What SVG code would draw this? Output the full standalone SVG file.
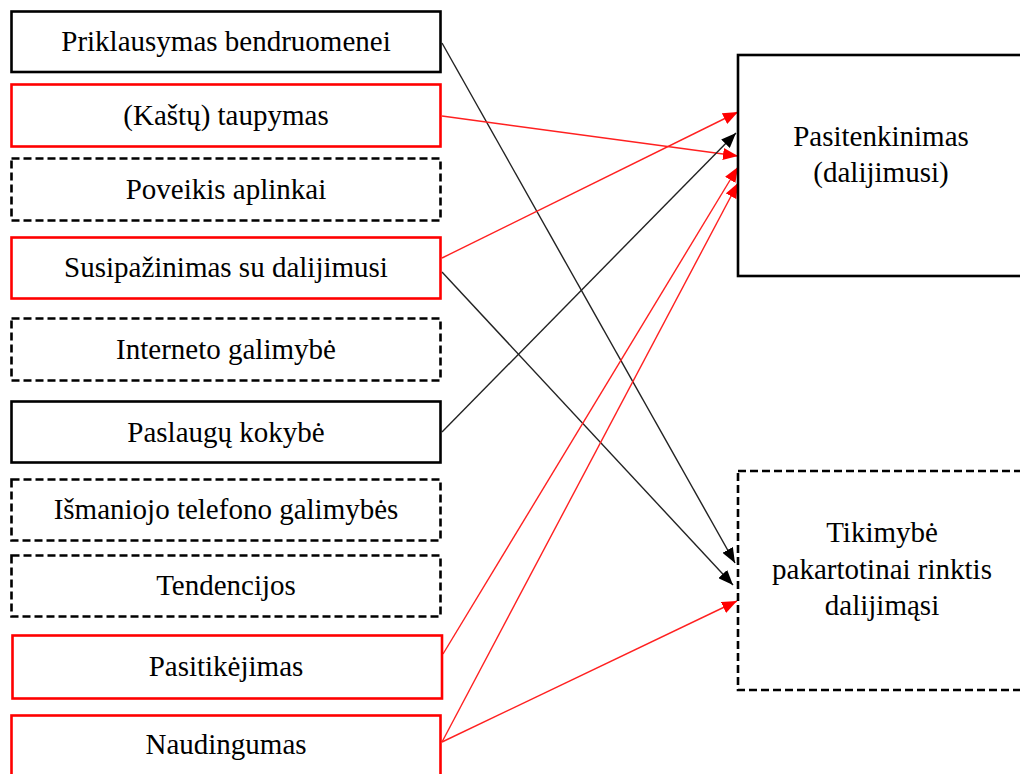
<svg xmlns="http://www.w3.org/2000/svg" width="1020" height="774" viewBox="0 0 1020 774">
<defs>
<style>
.box{fill:#fff;stroke-width:2.6}
.blk{stroke:#000}
.red{stroke:#ff0000}
.dash{stroke:#000;stroke-dasharray:8 4}
text{font-family:"Liberation Serif","Times New Roman",serif;font-size:29px;fill:#000;text-anchor:middle}
.cb{stroke:#222;stroke-width:1.4;fill:none}
.cr{stroke:#ff2020;stroke-width:1.4;fill:none}
</style>
<marker id="ab" viewBox="0 0 15 12" refX="15" refY="6" markerWidth="15" markerHeight="12" markerUnits="userSpaceOnUse" orient="auto"><path d="M0,0 L15,6 L0,12 z" fill="#000"/></marker>
<marker id="ar" viewBox="0 0 15 12" refX="15" refY="6" markerWidth="15" markerHeight="12" markerUnits="userSpaceOnUse" orient="auto"><path d="M0,0 L15,6 L0,12 z" fill="#ff0000"/></marker>
</defs>
<rect width="1020" height="774" fill="#fff"/>
<g id="connectors">
<line class="cb" x1="442" y1="43" x2="735" y2="563" marker-end="url(#ab)"/>
<line class="cr" x1="442" y1="116" x2="738" y2="156" marker-end="url(#ar)"/>
<line class="cr" x1="442" y1="258" x2="738" y2="112" marker-end="url(#ar)"/>
<line class="cb" x1="442" y1="272" x2="733" y2="585" marker-end="url(#ab)"/>
<line class="cb" x1="442" y1="432" x2="736" y2="133" marker-end="url(#ab)"/>
<line class="cr" x1="443" y1="654" x2="738" y2="167" marker-end="url(#ar)"/>
<line class="cr" x1="442" y1="742" x2="738" y2="183" marker-end="url(#ar)"/>
<line class="cr" x1="442" y1="742" x2="737" y2="601" marker-end="url(#ar)"/>
</g>
<g id="n1"><rect class="box blk" x="11.5" y="11.5" width="429" height="60.5"/><text x="226" y="51">Priklausymas bendruomenei</text></g>
<g id="n2"><rect class="box red" x="11.5" y="84.5" width="429" height="62"/><text x="226" y="125">(Kaštų) taupymas</text></g>
<g id="n3"><rect class="box dash" x="11.5" y="158.5" width="429" height="62"/><text x="226" y="199">Poveikis aplinkai</text></g>
<g id="n4"><rect class="box red" x="11.5" y="237.5" width="429" height="61"/><text x="226" y="277">Susipažinimas su dalijimusi</text></g>
<g id="n5"><rect class="box dash" x="11.5" y="318.5" width="429" height="62"/><text x="226" y="359">Interneto galimybė</text></g>
<g id="n6"><rect class="box blk" x="11.5" y="401.5" width="429" height="61"/><text x="226" y="442">Paslaugų kokybė</text></g>
<g id="n7"><rect class="box dash" x="11.5" y="479.5" width="429" height="61"/><text x="226" y="519">Išmaniojo telefono galimybės</text></g>
<g id="n8"><rect class="box dash" x="11.5" y="555.5" width="429" height="61"/><text x="226" y="595">Tendencijos</text></g>
<g id="n9"><rect class="box red" x="12.5" y="635.5" width="429.5" height="63"/><text x="226" y="676">Pasitikėjimas</text></g>
<g id="n10"><rect class="box red" x="11.5" y="715.5" width="429" height="80"/><text x="226" y="754">Naudingumas</text></g>
<g id="n11"><rect class="box blk" x="738" y="55" width="320" height="221"/><text x="881" y="146">Pasitenkinimas</text><text x="881" y="182">(dalijimusi)</text></g>
<g id="n12"><rect class="box dash" x="738" y="471" width="320" height="219"/><text x="882" y="542">Tikimybė</text><text x="882" y="579">pakartotinai rinktis</text><text x="882" y="615">dalijimąsi</text></g>
</svg>
